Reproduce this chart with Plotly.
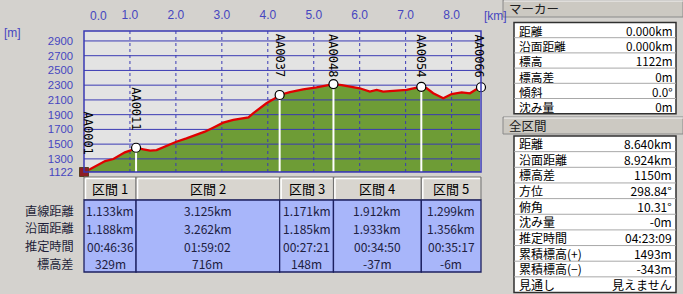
import plotly.graph_objects as go

W, H = 683, 294

# ---------------- data ----------------
prof_km = [0.0, 0.02, 0.13, 0.35, 0.46, 0.64, 0.78, 0.89, 1.0, 1.133, 1.29, 1.44, 1.58, 1.80,
           2.01, 2.23, 2.45, 2.63, 2.81, 3.03, 3.25, 3.47, 3.58, 3.68, 3.83, 3.97, 4.12, 4.258,
           4.48, 4.77, 5.06, 5.28, 5.429, 5.61, 5.79, 6.0, 6.22, 6.37, 6.51, 6.73, 7.02, 7.17,
           7.341, 7.46, 7.60, 7.82, 8.0, 8.22, 8.40, 8.54, 8.64]
prof_h = [1122, 1135, 1159, 1240, 1271, 1298, 1353, 1389, 1411, 1451, 1430, 1411, 1420, 1479,
          1533, 1579, 1624, 1669, 1723, 1791, 1828, 1851, 1864, 1918, 1986, 2054, 2108, 2167,
          2205, 2244, 2271, 2293, 2315, 2302, 2280, 2258, 2212, 2235, 2212, 2221, 2235, 2258,
          2278, 2258, 2190, 2122, 2180, 2203, 2190, 2244, 2272]

wp_names = ["AA0001", "AA0011", "AA0037", "AA0048", "AA0054", "AA0066"]
wp_km = [0.0, 1.133, 4.258, 5.429, 7.341, 8.640]
wp_h = [1122, 1451, 2167, 2315, 2278, 2272]

x_ticks = [0, 1, 2, 3, 4, 5, 6, 7, 8]
x_ticktext = ["0.0", "1.0", "2.0", "3.0", "4.0", "5.0", "6.0", "7.0", "8.0"]
y_ticks = [1122, 1300, 1500, 1700, 1900, 2100, 2300, 2500, 2700, 2900]

seg_names = ["区間 1", "区間 2", "区間 3", "区間 4", "区間 5"]
row_labels = ["直線距離", "沿面距離", "推定時間", "標高差"]
seg_straight = ["1.133km", "3.125km", "1.171km", "1.912km", "1.299km"]
seg_surface = ["1.188km", "3.262km", "1.185km", "1.933km", "1.356km"]
seg_time = ["00:46:36", "01:59:02", "00:27:21", "00:34:50", "00:35:17"]
seg_elev = ["329m", "716m", "148m", "-37m", "-6m"]

marker_labels = ["距離", "沿面距離", "標高", "標高差", "傾斜", "沈み量"]
marker_values = ["0.000km", "0.000km", "1122m", "0m", "0.0°", "0m"]
total_labels = ["距離", "沿面距離", "標高差", "方位", "俯角", "沈み量", "推定時間",
                "累積標高(+)", "累積標高(−)", "見通し"]
total_values = ["8.640km", "8.924km", "1150m", "298.84°", "10.31°", "-0m", "04:23:09",
                "1493m", "-343m", "見えません"]

# ---------------- styling ----------------
BG = "#D4D2CE"
PLOT_BG = "#E3E3E3"
GRID = "#3A3AB4"
FILL = "#6E9C36"
RED = "#E00000"
TICK_COL = "#4646C0"
CELL = "#A8B6FA"
JP = "Noto Sans CJK JP"
MONO = "DejaVu Sans Mono"
TICKFONT = "Liberation Sans"

X0, X1 = 84, 481          # plot pixel extents
Y0, Y1 = 31, 172
XMAX = 8.64
YMIN, YMAX = 1122, 3035


def px(x):
    return x / W


def py(y):
    return 1 - y / H


def xpix(d):
    return X0 + d / XMAX * (X1 - X0)


def ypix(h):
    return Y1 - (h - YMIN) / (YMAX - YMIN) * (Y1 - Y0)


fig = go.Figure()

# green fill
fig.add_trace(go.Scatter(x=prof_km, y=prof_h, mode="lines", line=dict(width=0, color=FILL),
                         fill="tozeroy", fillcolor=FILL, hoverinfo="skip"))
# horizontal grid (drawn above fill)
for v in y_ticks:
    fig.add_trace(go.Scatter(x=[0, XMAX], y=[v, v], mode="lines",
                             line=dict(color=GRID, width=1), hoverinfo="skip"))
# vertical dotted grid
for v in x_ticks[1:]:
    fig.add_trace(go.Scatter(x=[v, v], y=[YMIN, YMAX], mode="lines",
                             line=dict(color=GRID, width=1, dash="dot"), hoverinfo="skip"))
# white drop lines from waypoints
for d, h in zip(wp_km[1:], wp_h[1:]):
    fig.add_trace(go.Scatter(x=[d, d], y=[YMIN, h], mode="lines",
                             line=dict(color="white", width=2), hoverinfo="skip"))
# red profile
fig.add_trace(go.Scatter(x=prof_km, y=prof_h, mode="lines",
                         line=dict(color=RED, width=2.3), hoverinfo="skip"))
# waypoint markers
fig.add_trace(go.Scatter(x=wp_km[1:], y=wp_h[1:], mode="markers",
                         marker=dict(size=9, color="white", line=dict(color="black", width=1.2)),
                         hoverinfo="skip", cliponaxis=False))
# start (hiker) marker
fig.add_trace(go.Scatter(x=wp_km[:1], y=wp_h[:1], mode="markers",
                         marker=dict(size=9, color="#8E1E24", symbol="square",
                                     line=dict(color="#5A4020", width=1)),
                         hoverinfo="skip", cliponaxis=False))

shapes = []
annotations = []

# plot border
shapes.append(dict(type="rect", xref="paper", yref="paper", x0=px(X0), x1=px(X1),
                   y0=py(Y1), y1=py(Y0), line=dict(color=GRID, width=1.5), layer="above"))

# first x tick label, kept inside the frame as in the reference
annotations.append(dict(x=x_ticks[0], y=py(16), xref="x", yref="paper", text=x_ticktext[0],
                        showarrow=False, xanchor="left", yanchor="middle", xshift=4,
                        font=dict(family=TICKFONT, size=12, color=TICK_COL)))

# waypoint labels (rotated)
LBL_LEN = 45
for i, (n, d, h) in enumerate(zip(wp_names, wp_km, wp_h)):
    mp = ypix(h)
    bottom = mp - 16
    if bottom - LBL_LEN < Y0 + 2:
        ya, yy = "top", py(Y0 + 1)
    else:
        ya, yy = "bottom", py(bottom)
    annotations.append(dict(x=d, y=yy, xref="x", yref="paper", text=n, textangle=90,
                            showarrow=False, xanchor="center", yanchor=ya,
                            xshift=4 if i == 0 else (-2 if i == len(wp_names) - 1 else 0),
                            font=dict(family=MONO, size=12, color="black")))

# axis unit labels
annotations.append(dict(x=px(2), y=py(33), xref="paper", yref="paper", text="[m]",
                        showarrow=False, xanchor="left", yanchor="middle",
                        font=dict(family=TICKFONT, size=12, color=TICK_COL)))
annotations.append(dict(x=px(482), y=py(16), xref="paper", yref="paper", text="[km]",
                        showarrow=False, xanchor="left", yanchor="middle",
                        font=dict(family=TICKFONT, size=12, color=TICK_COL)))

# ---------------- segment table ----------------
HT, HB = 177, 200
DT, DB = 200, 272
ROW0, ROWH = 210.5, 17.8
for i, name in enumerate(seg_names):
    a, b = xpix(wp_km[i]), xpix(wp_km[i + 1])
    shapes.append(dict(type="rect", xref="paper", yref="paper", x0=px(a), x1=px(b),
                       y0=py(HB), y1=py(HT), fillcolor="#D8D5CF",
                       line=dict(color="#707070", width=1)))
    shapes.append(dict(type="line", xref="paper", yref="paper", x0=px(a + 1.5), x1=px(b - 1),
                       y0=py(HT + 1.5), y1=py(HT + 1.5), line=dict(color="white", width=1.5)))
    shapes.append(dict(type="line", xref="paper", yref="paper", x0=px(a + 1.5), x1=px(a + 1.5),
                       y0=py(HB - 1), y1=py(HT + 1.5), line=dict(color="white", width=1.5)))
    shapes.append(dict(type="rect", xref="paper", yref="paper", x0=px(a), x1=px(b),
                       y0=py(DB), y1=py(DT), fillcolor=CELL,
                       line=dict(color="#1C2060", width=1.3)))
    cx = (wp_km[i] + wp_km[i + 1]) / 2
    annotations.append(dict(x=cx, y=py((HT + HB) / 2), xref="x", yref="paper", text=name,
                            showarrow=False, xanchor="center", yanchor="middle",
                            font=dict(family=JP, size=13, color="black")))
    for r, vals in enumerate([seg_straight, seg_surface, seg_time, seg_elev]):
        annotations.append(dict(x=cx, y=py(ROW0 + r * ROWH), xref="x", yref="paper",
                                text=vals[i], showarrow=False,
                                xanchor="center", yanchor="middle",
                                font=dict(family=JP, size=12, color="#202040")))

for r, lab in enumerate(row_labels):
    annotations.append(dict(x=px(76), y=py(ROW0 + r * ROWH), xref="paper", yref="paper",
                            text=lab, showarrow=False, xanchor="right", yanchor="middle",
                            font=dict(family=JP, size=12.2, color="#1E1E38")))

# ---------------- right panel ----------------
PL, PR = 503, 683
BL, BR = 514, 676


def bar(y0, y1, title):
    shapes.append(dict(type="rect", xref="paper", yref="paper", x0=px(PL), x1=px(PR),
                       y0=py(y1), y1=py(y0), fillcolor="#CCC9C2",
                       line=dict(color="#8A8A8A", width=1)))
    shapes.append(dict(type="line", xref="paper", yref="paper", x0=px(PL + 1), x1=px(PR),
                       y0=py(y0 + 1), y1=py(y0 + 1), line=dict(color="#F4F4F4", width=1)))
    annotations.append(dict(x=px(PL + 4), y=py((y0 + y1) / 2), xref="paper", yref="paper",
                            text=title, showarrow=False, xanchor="left", yanchor="middle",
                            font=dict(family=JP, size=12.5, color="#202020")))


def table(top, rowh, labels, values):
    n = len(labels)
    bot = top + rowh * n
    shapes.append(dict(type="rect", xref="paper", yref="paper", x0=px(BL), x1=px(BR),
                       y0=py(bot), y1=py(top), fillcolor="white",
                       line=dict(color="#303030", width=1.5)))
    for k in range(1, n):
        yy = top + rowh * k
        shapes.append(dict(type="line", xref="paper", yref="paper", x0=px(BL), x1=px(BR),
                           y0=py(yy), y1=py(yy), line=dict(color="#A8A8A8", width=1)))
    fs = rowh / 1.3
    yc = (top + bot) / 2
    annotations.append(dict(x=px(BL + 3), y=py(yc), xref="paper", yref="paper",
                            text="<br>".join(labels), align="left",
                            showarrow=False, xanchor="left", yanchor="middle",
                            font=dict(family=JP, size=fs, color="black")))
    annotations.append(dict(x=px(BR - 2), y=py(yc), xref="paper", yref="paper",
                            text="<br>".join(values), align="right",
                            showarrow=False, xanchor="right", yanchor="middle",
                            font=dict(family=JP, size=fs, color="black")))


bar(0, 17, "マーカー")
table(22.5, 15.2, marker_labels, marker_values)
bar(117, 134, "全区間")
table(136, 15.65, total_labels, total_values)

fig.update_layout(
    width=W, height=H, margin=dict(l=0, r=0, t=0, b=0, pad=0, autoexpand=False),
    paper_bgcolor=BG, plot_bgcolor=PLOT_BG, showlegend=False,
    shapes=shapes, annotations=annotations,
    xaxis=dict(domain=[px(X0), px(X1)], range=[0, XMAX], side="top", tickvals=x_ticks[1:],
               ticktext=x_ticktext[1:], showgrid=False, zeroline=False, ticks="",
               automargin=False,
               ticklabelstandoff=9, tickfont=dict(family=TICKFONT, size=12, color=TICK_COL),
               fixedrange=True),
    yaxis=dict(domain=[py(Y1), py(Y0)], range=[YMIN, YMAX], tickvals=y_ticks,
               showgrid=False, zeroline=False, ticks="", ticklabelstandoff=10,
               automargin=False,
               tickfont=dict(family=TICKFONT, size=11.3, color=TICK_COL), fixedrange=True),
)

fig.write_html("out.html")
